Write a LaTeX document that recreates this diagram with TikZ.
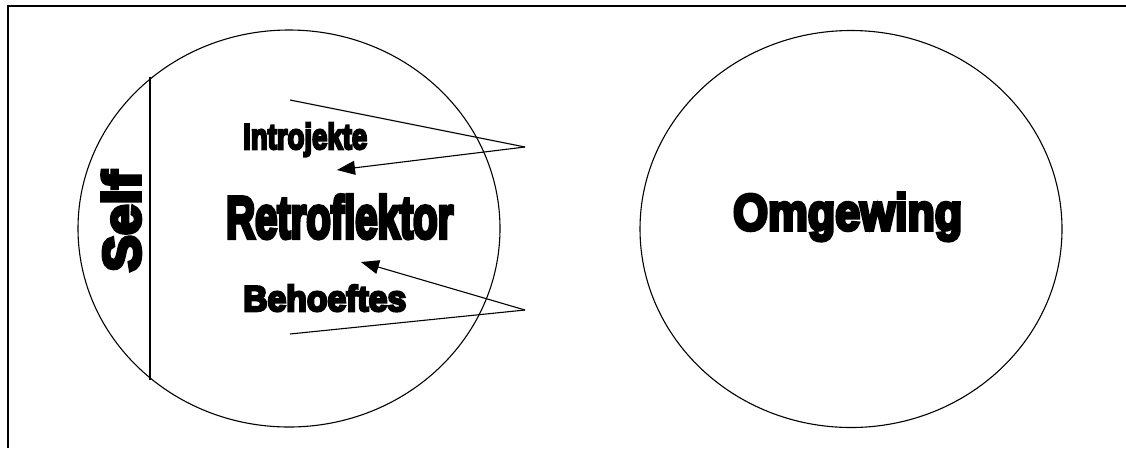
\documentclass[tikz,border=0pt]{standalone}
\usepackage{fontspec}
\usepackage{graphicx}
\usetikzlibrary{arrows.meta,shapes.geometric}
\newfontfamily\heavy{Liberation Sans Bold}[FakeBold=7]
\tikzset{
  oval/.style={draw, ellipse, line width=1.1pt, inner sep=0pt, minimum width=422pt, minimum height=397pt},
  lbl/.style={inner sep=0pt, anchor=base west, font=\heavy},
  conn/.style={line width=1.1pt},
  arr/.style={line width=1.1pt, -{Triangle[length=18pt,width=14pt]}},
}
\begin{document}
\begin{tikzpicture}[x=1pt,y=-1pt]
\useasboundingbox (0,0) rectangle (1126,448);
% frame (top and left only)
\draw[line width=2pt] (8,6) -- (1126,6);
\draw[line width=1.5pt] (8,5) -- (8,448);
% ellipses
\node[oval] (selfcirc) at (289,228.5) {};
\node[oval] (env) at (851,229) {};
% self line
\coordinate (lt) at (150,77);
\coordinate (lb) at (150,380);
\draw[line width=1.1pt] (lt) -- (lb);
% labels
\node[lbl, rotate=90] (self) at (140,272) {\resizebox{101pt}{38pt}{Self}};
\node[lbl] (intro) at (243,149) {\resizebox{124pt}{26pt}{\vphantom{I}Introjekte}};
\node[lbl] (retro) at (226,238) {\resizebox{227pt}{43pt}{Retroflektor}};
\node[lbl] (beh) at (243,311) {\resizebox{163pt}{26pt}{Behoeftes}};
\node[lbl] (omg) at (733,230) {\resizebox{229pt}{37pt}{Omgewing}};
% connectors
\coordinate (s1) at (290,100);
\coordinate (a1) at (525,147);
\coordinate (t1) at (337,170);
\coordinate (s2) at (290,334);
\coordinate (a2) at (525,310);
\coordinate (t2) at (361,262);
\draw[conn] (s1) -- (a1);
\draw[arr] (a1) -- (t1);
\draw[conn] (s2) -- (a2);
\draw[arr] (a2) -- (t2);
\end{tikzpicture}
\end{document}
